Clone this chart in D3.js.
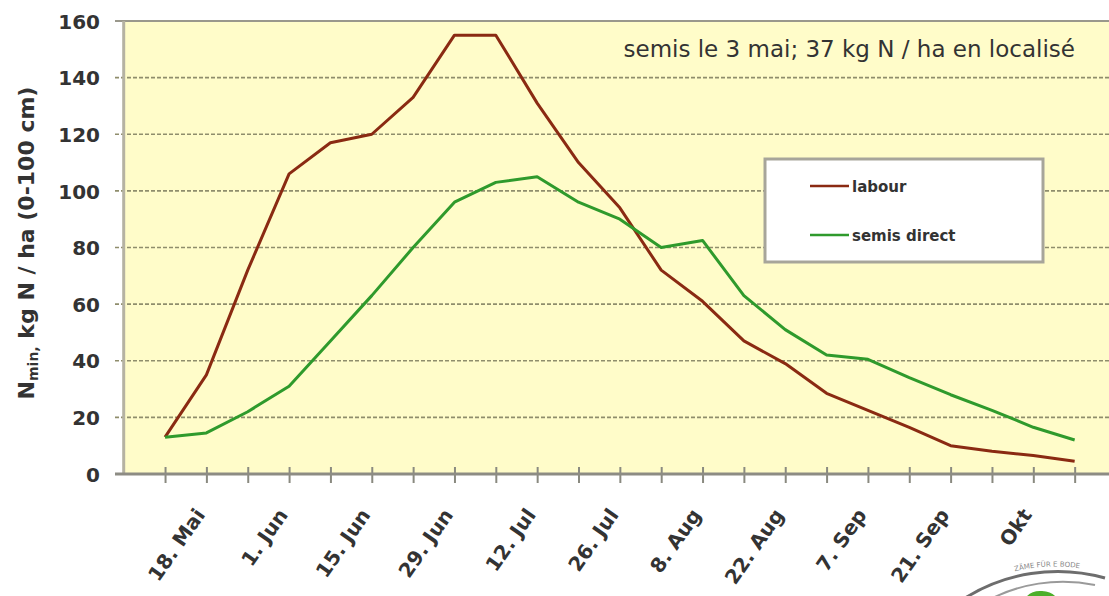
<!DOCTYPE html>
<html>
<head>
<meta charset="utf-8">
<script src="https://cdn.jsdelivr.net/npm/d3@7"></script>
<style>
  html, body { margin: 0; padding: 0; background: #ffffff; }
  svg { display: block; }
</style>
</head>
<body>
<svg id="chart" width="1109" height="596"></svg>
<script>
// ---- data ----
const pointIndex = d3.range(23);
const xTickLabels = ["", "18. Mai", "", "1. Jun", "", "15. Jun", "", "29. Jun", "", "12. Jul", "", "26. Jul", "",
                     "8. Aug", "", "22. Aug", "", "7. Sep", "", "21. Sep", "", "Okt", ""];
const labour      = [13, 35, 72, 106, 117, 120, 133, 155, 155, 131, 110, 94, 72, 61, 47, 39, 28.5, 22.5, 16.5, 10, 8, 6.5, 4.5];
const semisDirect = [13, 14.5, 22, 31, 47, 63, 80, 96, 103, 105, 96, 90, 80, 82.5, 63, 51, 42, 40.5, 34, 28, 22.5, 16.5, 12];
const yTicks = [0, 20, 40, 60, 80, 100, 120, 140, 160];
const seriesNames = ["labour", "semis direct"];
const seriesColors = ["#8a2a12", "#2f9a2c"];
const noteText = "semis le 3 mai; 37 kg N / ha en localisé";

// ---- layout ----
const svg = d3.select("#chart");
const plot = { left: 123.7, top: 21, right: 1116, bottom: 474 };

const x = d3.scaleLinear().domain([-1, 23]).range([plot.left, plot.right]);
const y = d3.scaleLinear().domain([0, 160]).range([plot.bottom, plot.top]);

// background
svg.append("rect")
  .attr("x", plot.left).attr("y", plot.top)
  .attr("width", plot.right - plot.left).attr("height", plot.bottom - plot.top)
  .attr("fill", "#fffcc9");

// gridlines (dashed), extending slightly to the left as tick marks
svg.append("g").selectAll("line")
  .data(yTicks.filter(d => d > 0 && d < 160))
  .join("line")
  .attr("x1", 115).attr("x2", 1109)
  .attr("y1", d => y(d)).attr("y2", d => y(d))
  .attr("stroke", "#8f8d6c").attr("stroke-width", 1.6)
  .attr("stroke-dasharray", "4,2");

// top border
svg.append("line")
  .attr("x1", 115).attr("x2", 1109)
  .attr("y1", plot.top).attr("y2", plot.top)
  .attr("stroke", "#9a988c").attr("stroke-width", 2);

// left border
svg.append("line")
  .attr("x1", plot.left).attr("x2", plot.left)
  .attr("y1", plot.top).attr("y2", plot.bottom)
  .attr("stroke", "#b5b2a2").attr("stroke-width", 3);

// y axis labels
const yAxis = d3.axisLeft(y).tickValues(yTicks).tickSize(0).tickPadding(0);
const gy = svg.append("g").attr("transform", `translate(100,0)`).call(yAxis);
gy.select(".domain").remove();
gy.selectAll("text")
  .attr("x", 0)
  .attr("dy", "0.36em")
  .attr("font-family", "DejaVu Sans, Verdana, sans-serif")
  .attr("font-weight", "bold")
  .attr("font-size", 20)
  .attr("fill", "#333333");

// x axis
const xAxis = d3.axisBottom(x).tickValues(pointIndex).tickFormat(i => xTickLabels[i]).tickSize(0);
const gx = svg.append("g").attr("transform", `translate(0,${plot.bottom})`).call(xAxis);
gx.select(".domain").remove();
gx.selectAll(".tick line")
  .attr("y1", -7).attr("y2", 9)
  .attr("stroke", "#8a8a80").attr("stroke-width", 2);
gx.selectAll(".tick text")
  .attr("font-family", "DejaVu Sans, Verdana, sans-serif")
  .attr("font-weight", "bold")
  .attr("font-size", 20)
  .attr("fill", "#333333")
  .attr("text-anchor", "end")
  .attr("y", 0).attr("dy", 0)
  .attr("transform", "translate(-1,41) rotate(-55)");

// bottom axis line
svg.append("line")
  .attr("x1", 115).attr("x2", 1109)
  .attr("y1", plot.bottom).attr("y2", plot.bottom)
  .attr("stroke", "#8d8c84").attr("stroke-width", 3);

// y axis title
const yTitle = svg.append("text")
  .attr("transform", "translate(34,243) rotate(-90)")
  .attr("text-anchor", "middle")
  .attr("font-family", "DejaVu Sans, Verdana, sans-serif")
  .attr("font-weight", "bold")
  .attr("font-size", 22)
  .attr("fill", "#333333");
yTitle.append("tspan").text("N");
yTitle.append("tspan").attr("font-size", 14).attr("dy", 4).text("min,");
yTitle.append("tspan").attr("dy", -4).text(" kg N / ha (0-100 cm)");

// lines
const line = d3.line().x((d, i) => x(pointIndex[i])).y(d => y(d));
[labour, semisDirect].forEach((s, k) => {
  svg.append("path")
    .datum(s)
    .attr("fill", "none")
    .attr("stroke", seriesColors[k])
    .attr("stroke-width", 3)
    .attr("stroke-linejoin", "round")
    .attr("d", line);
});

// note text
svg.append("text")
  .attr("x", 1075).attr("y", 57)
  .attr("text-anchor", "end")
  .attr("font-family", "DejaVu Sans, Verdana, sans-serif")
  .attr("font-size", 23)
  .attr("fill", "#333333")
  .text(noteText);

// legend
const lg = svg.append("g");
lg.append("rect")
  .attr("x", 765).attr("y", 159).attr("width", 278).attr("height", 103)
  .attr("fill", "#ffffff").attr("stroke", "#a7a59a").attr("stroke-width", 3);
seriesNames.forEach((name, k) => {
  const ly = 186 + k * 49;
  lg.append("line")
    .attr("x1", 810).attr("x2", 849).attr("y1", ly).attr("y2", ly)
    .attr("stroke", seriesColors[k]).attr("stroke-width", 2.5);
  lg.append("text")
    .attr("x", 852).attr("y", ly + 6)
    .attr("font-family", "DejaVu Sans, Verdana, sans-serif")
    .attr("font-weight", "bold")
    .attr("font-size", 15)
    .attr("fill", "#333333")
    .text(name);
});

// logo fragment (bottom right)
const logo = svg.append("g");
logo.append("path")
  .attr("d", "M 962 600 A 175 175 0 0 1 1105 578")
  .attr("fill", "none").attr("stroke", "#6d6d6d").attr("stroke-width", 3);
logo.append("path")
  .attr("d", "M 985 602 A 160 160 0 0 1 1095 585")
  .attr("fill", "none").attr("stroke", "#9a9a9a").attr("stroke-width", 2);
logo.append("path")
  .attr("d", "M 1024 600 Q 1030 590 1042 591 Q 1054 592 1058 600 Z")
  .attr("fill", "#4caf2a");
logo.append("path").attr("id", "logoArc")
  .attr("d", "M 1005 574 A 170 170 0 0 1 1105 574")
  .attr("fill", "none");
logo.append("text")
  .attr("font-family", "DejaVu Sans, sans-serif")
  .attr("font-size", 7)
  .attr("fill", "#888")
  .append("textPath").attr("href", "#logoArc").attr("startOffset", "10%")
  .text("ZÄME FÜR E BODE");
</script>
</body>
</html>
